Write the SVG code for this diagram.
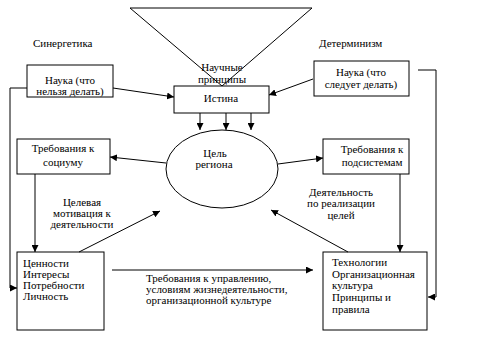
<svg xmlns="http://www.w3.org/2000/svg" width="496" height="357" viewBox="0 0 496 357">
<defs>
<marker id="ah" markerWidth="8" markerHeight="7" refX="7" refY="3.5" orient="auto" markerUnits="userSpaceOnUse">
<path d="M0,0 L7,3.5 L0,7 Z" fill="#000"/>
</marker>
<style>
.box{fill:#fff;stroke:#000;stroke-width:1}
.ln{fill:none;stroke:#000;stroke-width:1}
.ar{fill:none;stroke:#000;stroke-width:1;marker-end:url(#ah)}
text{font-family:"Liberation Serif","Times New Roman",serif;font-size:11px;fill:#000}
.c{text-anchor:middle}
</style>
</defs>
<rect width="496" height="357" fill="#fff"/>
<g id="principles">
<polygon class="ln" points="130,8 312,8 222,86"/>
<text class="c" x="222" y="71">Научные</text>
<text class="c" x="222" y="83">принципы</text>
</g>
<g id="synergetics">
<text x="33" y="47">Синергетика</text>
</g>
<g id="determinism">
<text x="319" y="47">Детерминизм</text>
</g>
<g id="science-left">
<rect class="box" x="27" y="65" width="86" height="32"/>
<text class="c" x="70" y="84">Наука (что</text>
<text class="c" x="70" y="95">нельзя делать)</text>
</g>
<g id="science-right">
<rect class="box" x="314" y="61" width="95" height="35"/>
<text class="c" x="361" y="76">Наука (что</text>
<text class="c" x="361" y="88">следует делать)</text>
</g>
<g id="truth">
<rect class="box" x="174" y="86" width="95" height="27"/>
<text class="c" x="221" y="102">Истина</text>
</g>
<g id="goal">
<ellipse class="box" cx="222" cy="169" rx="56" ry="39"/>
<text class="c" x="215" y="157">Цель</text>
<text class="c" x="214" y="168">региона</text>
</g>
<g id="req-society">
<rect class="box" x="17" y="139" width="93" height="35"/>
<text class="c" x="63" y="152">Требования к</text>
<text class="c" x="63" y="166">социуму</text>
</g>
<g id="req-subsystems">
<rect class="box" x="323" y="139" width="86" height="35"/>
<text class="c" x="372" y="153">Требования к</text>
<text class="c" x="372" y="166">подсистемам</text>
</g>
<g id="values">
<rect class="box" x="17" y="252" width="87" height="78"/>
<text x="23" y="267">Ценности</text>
<text x="23" y="278">Интересы</text>
<text x="23" y="289">Потребности</text>
<text x="23" y="300">Личность</text>
</g>
<g id="technologies">
<rect class="box" x="323" y="252" width="104" height="78"/>
<text x="332" y="266">Технологии</text>
<text x="332" y="278">Организационная</text>
<text x="332" y="289">культура</text>
<text x="332" y="301">Принципы и</text>
<text x="332" y="313">правила</text>
</g>
<g id="labels">
<text class="c" x="82" y="206">Целевая</text>
<text class="c" x="82" y="217">мотивация к</text>
<text class="c" x="82" y="228">деятельности</text>
<text class="c" x="341" y="196">Деятельность</text>
<text class="c" x="341" y="207">по реализации</text>
<text class="c" x="341" y="219">целей</text>
<text x="146" y="282">Требования к управлению,</text>
<text x="146" y="293">условиям жизнедеятельности,</text>
<text x="146" y="304">организационной культуре</text>
</g>
<g id="connectors">
<line class="ar" x1="113" y1="88" x2="174" y2="97"/>
<line class="ar" x1="313" y1="79" x2="269" y2="95"/>
<line class="ar" x1="200" y1="113" x2="200" y2="130"/>
<line class="ar" x1="226" y1="113" x2="226" y2="130"/>
<line class="ar" x1="251" y1="113" x2="251" y2="130"/>
<line class="ar" x1="166" y1="163" x2="110" y2="157"/>
<line class="ar" x1="278" y1="164" x2="323" y2="158"/>
<line class="ar" x1="35" y1="174" x2="35" y2="252"/>
<line class="ar" x1="400" y1="174" x2="400" y2="252"/>
<line class="ar" x1="79" y1="252" x2="160" y2="211"/>
<line class="ar" x1="348" y1="252" x2="271" y2="210"/>
<line class="ar" x1="112" y1="270" x2="313" y2="270"/>
<polyline class="ar" points="27,88 10,88 10,288 17,288"/>
<polyline class="ar" points="418,70 436,70 436,297 428,297"/>
</g>
</svg>
